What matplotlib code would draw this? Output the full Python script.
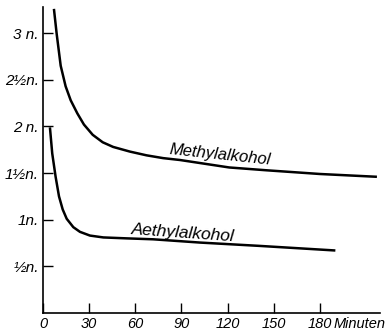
import matplotlib
matplotlib.use("Agg")
import matplotlib.pyplot as plt

plt.rcParams['font.family'] = ['Liberation Sans', 'DejaVu Sans']

# Data
methyl_t = [7.1, 8.9, 11.5, 14.7, 18.0, 22.3, 26.6, 32.3, 38.8, 45.6, 56.5, 67.3, 78.1, 89, 105, 121, 145, 180, 217]
methyl_v = [3.26, 2.99, 2.65, 2.43, 2.28, 2.14, 2.02, 1.91, 1.83, 1.78, 1.73, 1.69, 1.66, 1.64, 1.60, 1.56, 1.53, 1.49, 1.46]

aethyl_t = [4.5, 6.0, 8.2, 10.4, 12.8, 15.4, 19.7, 24, 30.5, 39.2, 54.4, 71.6, 102, 140, 190]
aethyl_v = [1.99, 1.71, 1.46, 1.25, 1.11, 1.01, 0.92, 0.87, 0.83, 0.81, 0.80, 0.79, 0.755, 0.72, 0.67]

x_ticks = [0, 30, 60, 90, 120, 150, 180]
x_labels = ["0", "30", "60", "90", "120", "150", "180"]
y_ticks = [0.5, 1.0, 1.5, 2.0, 2.5, 3.0]
y_labels = ["½n.", "1n.", "1½n.", "2 n.", "2½n.", "3 n."]

fig = plt.figure(figsize=(3.86, 3.32), dpi=100)
ax = fig.add_axes([43/386, 19/332, 337/386, 306/332])

ax.plot(methyl_t, methyl_v, color="black", lw=1.8, solid_capstyle="butt", solid_joinstyle="round")
ax.plot(aethyl_t, aethyl_v, color="black", lw=1.8, solid_capstyle="butt", solid_joinstyle="round")

ax.set_xlim(0, 219)
ax.set_ylim(0, 3.28)
for s in ["top", "right"]:
    ax.spines[s].set_visible(False)
for s in ["left", "bottom"]:
    ax.spines[s].set_linewidth(1.2)

ax.set_xticks(x_ticks)
ax.set_xticklabels(x_labels, fontstyle="italic", fontsize=10.5)
ax.set_yticks(y_ticks)
ax.set_yticklabels(y_labels, fontstyle="italic", fontsize=11)
ax.tick_params(axis="both", direction="in", length=7, width=1.0, pad=3)

fig.canvas.draw()
lab = ax.get_xticklabels()[-1]
ax.text(188.5, lab.get_position()[1], "Minuten", transform=lab.get_transform(),
        fontstyle="italic", fontsize=10.5, ha="left", va=lab.get_va(), clip_on=False)

ax.text(115, 1.69, "Methylalkohol", fontstyle="italic", fontsize=12, rotation=-6,
        ha="center", va="center")
ax.text(91, 0.86, "Aethylalkohol", fontstyle="italic", fontsize=12.5, rotation=-4,
        ha="center", va="center")

fig.savefig("out.png", dpi=100)
